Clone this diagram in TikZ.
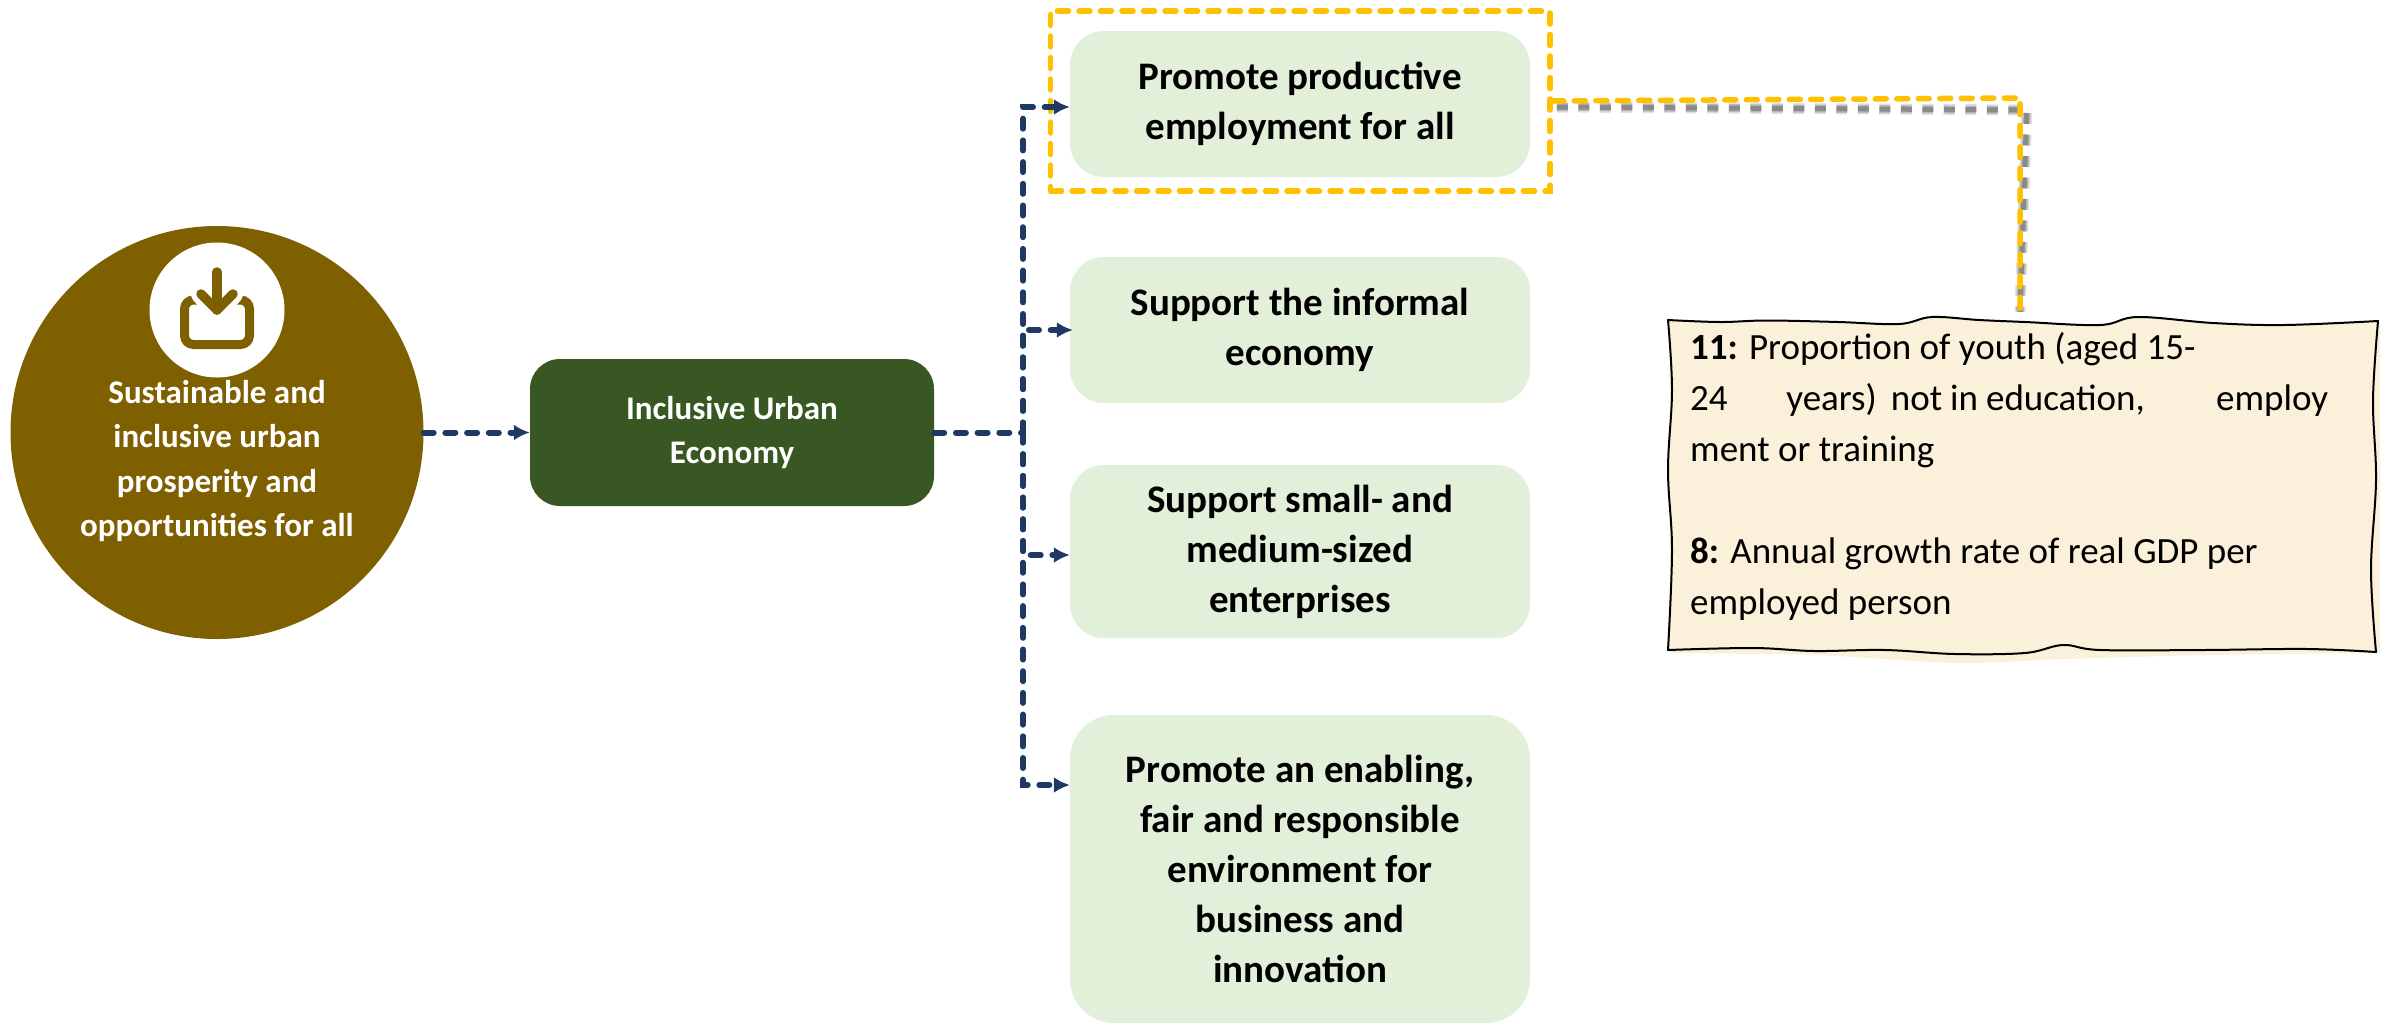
\documentclass[tikz,border=0pt]{standalone}
\usepackage{fontspec}
\setmainfont{Carlito}
\usetikzlibrary{arrows.meta}
\definecolor{brownc}{HTML}{7F6000}
\definecolor{darkg}{HTML}{385723}
\definecolor{lightg}{HTML}{E2EFD9}
\definecolor{bluec}{HTML}{1F3864}
\definecolor{yell}{HTML}{FFC000}
\definecolor{paper}{HTML}{FBF0DA}
\tikzset{
  x=1pt,y=-1pt,
  goalbox/.style={fill=lightg,rounded corners=34pt,minimum width=460pt,inner sep=0pt,align=center,font=\fontsize{39}{50}\selectfont\bfseries},
  flow/.style={draw=bluec,line width=6pt,line cap=round,dash pattern=on 10pt off 11.7pt,-{Latex[length=16pt,width=16pt]}},
  hilite/.style={draw=yell,line width=5.5pt,dash pattern=on 11pt off 10.5pt,line cap=round},
  shade/.style={line width=#1,dash pattern=on 11pt off 10.5pt,draw=black,opacity=0.1},
}
\begin{document}
\begin{tikzpicture}
\useasboundingbox (0,0) rectangle (2382,1023);
% root circle
\node[circle,fill=brownc,minimum size=413pt,inner sep=0pt] (root) at (217,432.5) {};
\node[circle,fill=white,minimum size=135pt,inner sep=0pt] (badge) at (217,310) {};
\draw[brownc,line width=9pt,rounded corners=9pt] (184.5,300) rectangle (249.5,344.5);
\draw[white,line width=20pt,line cap=round,line join=round] (201,294) -- (217,311) -- (233,294);
\draw[brownc,line width=9.5pt,line cap=round,line join=round] (217,272) -- (217,310);
\draw[brownc,line width=9.5pt,line cap=round,line join=round] (201,294) -- (217,310) -- (233,294);
\node[text=white,align=center,font=\fontsize{33}{44.5}\selectfont\bfseries,inner sep=0pt] (roottext) at (217,461) {Sustainable and\\inclusive urban\\prosperity and\\opportunities for all};
% economy
\node[fill=darkg,rounded corners=30pt,minimum width=404pt,minimum height=147pt,inner sep=0pt,text=white,align=center,font=\fontsize{33}{44}\selectfont\bfseries] (econ) at (732,432.5) {Inclusive Urban\\Economy};
% goals
\node[goalbox,minimum height=146pt] (b1) at (1300,104) {Promote productive\\employment for all};
\node[goalbox,minimum height=146pt] (b2) at (1300,330) {Support the informal\\economy};
\node[goalbox,minimum height=173pt] (b3) at (1300,551.5) {Support small- and\\medium-sized\\enterprises};
\node[goalbox,minimum height=308pt,rounded corners=44pt] (b4) at (1300,869) {Promote an enabling,\\fair and responsible\\environment for\\business and\\innovation};
% note
\fill[paper,shift={(2pt,-3pt)}] plot[smooth] coordinates {(1668,322)(1767,322)(1899,326)(1979,322)(2025,318)(2100,326)(2213,324)(2378,322)}
  -- plot[smooth] coordinates {(2378,650)(2204,652)(2063,656)(1955,660)(1814,652)(1668,650)} -- cycle;
\draw[black,line width=2pt,line join=round,fill=paper] plot[smooth,tension=0.6] coordinates {(1668,320)(1720,322)(1767,320.5)(1838,322)(1899,324)(1932,317)(1979,320)(2025,322)(2100,325)(2138,317)(2213,323)(2284,325)(2378,321)}
  -- plot[smooth,tension=0.6] coordinates {(2378,321)(2373,400)(2376,480)(2371,570)(2376,652)}
  -- plot[smooth,tension=0.6] coordinates {(2376,652)(2307,649)(2204,650)(2100,650)(2063,645)(2025,653)(1955,654)(1885,650)(1814,651)(1753,648)(1668,650)}
  -- plot[smooth,tension=0.6] coordinates {(1668,650)(1672,550)(1668,470)(1672,390)(1668,320)} -- cycle;
\node[minimum width=710pt,minimum height=330pt,inner sep=0pt] (note) at (2023,485) {};
\node[anchor=north west,inner sep=0pt,align=left,font=\fontsize{37}{51}\selectfont] (notetext) at (1690,332) {\textbf{11:} Proportion of youth (aged 15-\\\makebox[638pt][s]{24 years)\hspace{14pt}not\hspace{8pt}in\hspace{8pt}education, employ}\\ment or training\\[51pt]\textbf{8:} Annual growth rate of real GDP per\\employed person};
% highlight
\node[hilite,draw,minimum width=499.5pt,minimum height=180pt,inner sep=0pt] (hl) at (1300.25,101) {};
\foreach \w/\o in {11pt/0.12,8pt/0.18,5pt/0.25}{
  \draw[draw=black,opacity=\o,line width=\w,dash pattern=on 11pt off 10.5pt] ([shift={(4pt,-6pt)}]hl.east) -- ([shift={(474pt,-9pt)}]hl.east) -- ([shift={(-3pt,8pt)}]note.north);
}
\draw[hilite] (hl.east) -- (2020,98) -- ([shift={(-3pt,2pt)}]note.north);
% connectors
\draw[flow] (root.east) -- (econ.west);
\coordinate (junction) at (1023,432.5);
\draw[flow,-] (econ.east) -- (junction);
\draw[flow] (junction) |- ([yshift=-3pt]b1.west);
\draw[flow] (junction) |- ([xshift=3pt]b2.west);
\draw[flow] (junction) |- ([yshift=-3.5pt]b3.west);
\draw[flow] (junction) |- ([yshift=84pt]b4.west);
\end{tikzpicture}
\end{document}
